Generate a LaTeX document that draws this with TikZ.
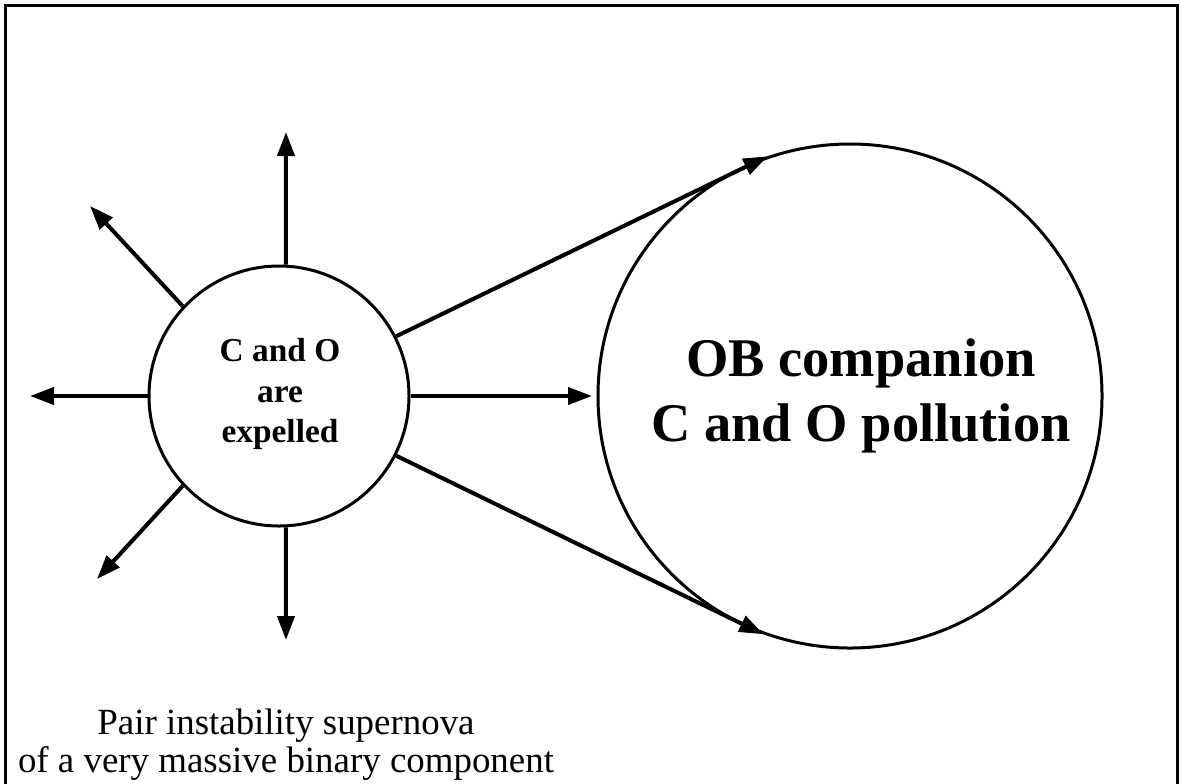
\documentclass[tikz,border=0pt]{standalone}
\usepackage{fontspec}
\setmainfont{Liberation Serif}
\usepackage{tikz}
\usetikzlibrary{arrows.meta,positioning}

\begin{document}
\begin{tikzpicture}[x=0.2mm,y=-0.2mm,
    star/.style={draw,circle,line width=0.6mm,inner sep=0pt,minimum size=5.2cm},
    companion/.style={draw,circle,line width=0.6mm,inner sep=0pt,minimum size=10.08cm},
    ray/.style={line width=0.8mm,-{Triangle[length=4.8mm,width=3.4mm]}}]
    % Page and frame
    \useasboundingbox (0,0) rectangle (1181,783);
    \clip (0,0) rectangle (1181,783);
    \draw[line width=0.6mm] (5.5,5.5) rectangle (1177,820);
    % The two stars
    \node[star] (sn) at (279,396) {};
    \node[font=\fontsize{19}{23.3}\selectfont\bfseries,align=center] (sntxt) at (280,394)
      {C and O\\are\\expelled};
    \node[companion] (ob) at (850,396) {};
    \node[font=\fontsize{31}{37}\selectfont\bfseries,align=center] (obtxt) at (861,396)
      {OB companion\\C and O pollution};
    % Ejecta
    \coordinate (tipN) at (286,132);
    \coordinate (tipNW) at (90,206);
    \coordinate (tipW) at (30,396);
    \coordinate (tipSW) at (97,579);
    \coordinate (tipS) at (286,640);
    \coordinate (tipE) at (592,396);
    \foreach \a/\t in {87/N,137/NW,180/W,223/SW,-87/S,0/E} {\draw[ray] (sn.\a) -- (tip\t);}
    % Towards the companion
    \draw[ray] (sn.27) -- (ob.109);
    \draw[ray] (sn.-27) -- (ob.250);
    % Caption
    \node[font=\fontsize{21}{21.5}\selectfont,align=center] (cap) at (286,745)
      {Pair instability supernova\\of a very massive binary component};
\end{tikzpicture}
\end{document}
